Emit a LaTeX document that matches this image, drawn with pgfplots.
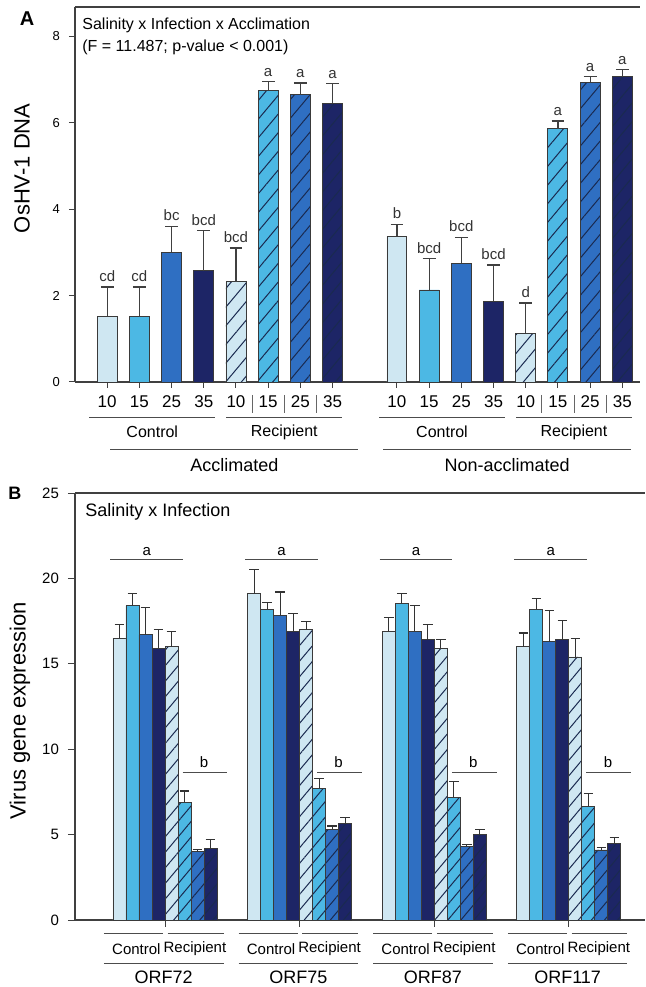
\documentclass[border=0pt]{standalone}
\usepackage{fontspec}
\setmainfont{Liberation Sans}
\usepackage{pgfplots}
\pgfplotsset{compat=1.18}
\usetikzlibrary{patterns.meta}
\definecolor{cA}{HTML}{CFE7F2}
\definecolor{cB}{HTML}{4CB8E4}
\definecolor{cC}{HTML}{2F6FC2}
\definecolor{cD}{HTML}{1D2566}
\definecolor{edge}{HTML}{3A3A3A}
\definecolor{hatchc}{HTML}{1A2A50}
\newcommand{\sepline}[1]{\draw[black!60, line width=0.4pt] ([yshift=-6.5pt]axis cs:#1,0) -- ([yshift=-15.5pt]axis cs:#1,0);}
\newcommand{\accgroup}[1]{%
  \draw[black!70, line width=0.5pt] ([yshift=-18pt]axis cs:{#1-0.55},0) -- ([yshift=-18pt]axis cs:{#1+3.35},0);
  \draw[black!70, line width=0.5pt] ([yshift=-18pt]axis cs:{#1+3.7},0) -- ([yshift=-18pt]axis cs:{#1+7.3},0);
  \node[font=\fontsize{8}{9}\selectfont] at ([yshift=-25pt]axis cs:{#1+1.4},0) {Control};
  \node[font=\fontsize{8}{9}\selectfont] at ([yshift=-25pt]axis cs:{#1+5.5},0) {Recipient};}
\newcommand{\orfgroup}[2]{%
  \draw[black!70, line width=0.5pt] (axis cs:{#1-0.7},21.1) -- (axis cs:{#1+4.9},21.1);
  \node[anchor=south, inner sep=1pt, yshift=1pt, font=\fontsize{7.5}{8}\selectfont] at (axis cs:{#1+2.1},21.1) {a};
  \draw[black!70, line width=0.5pt] (axis cs:{#1+4.85},8.65) -- (axis cs:{#1+8.3},8.65);
  \node[anchor=south, inner sep=1pt, yshift=1pt, font=\fontsize{7.5}{8}\selectfont] at (axis cs:{#1+6.5},8.65) {b};
  \draw[black!70, line width=0.5pt] ([yshift=-6.5pt]axis cs:{#1-1.2},0) -- ([yshift=-6.5pt]axis cs:{#1+3.35},0);
  \draw[black!70, line width=0.5pt] ([yshift=-6.5pt]axis cs:{#1+3.7},0) -- ([yshift=-6.5pt]axis cs:{#1+8.0},0);
  \node[font=\fontsize{7.5}{8}\selectfont] at ([yshift=-14.5pt]axis cs:{#1+1.3},0) {Control};
  \node[font=\fontsize{7.5}{8}\selectfont] at ([yshift=-14.5pt]axis cs:{#1+5.8},0) {Recipient};
  \draw[black!70, line width=0.5pt] ([yshift=-21.5pt]axis cs:{#1-1.2},0) -- ([yshift=-21.5pt]axis cs:{#1+8.0},0);
  \node[font=\fontsize{9}{10}\selectfont] at ([yshift=-28.5pt]axis cs:{#1+3.4},0) {#2};}
\begin{document}
\begin{tikzpicture}
\path[use as bounding box] (0,0) rectangle (323pt,493.5pt);
\pgfplotsset{
  common/.style={
    scale only axis, axis lines=left, axis line style={-, line width=0.6pt, black!75},
    ymin=0, clip=false,
    tick align=outside, major tick length=3.5pt, tick style={black!75, line width=0.5pt},
    /pgf/number format/assume math mode=true,
  },
  barA/.style={ybar, bar width=0.62, bar shift=0pt, fill=#1, draw=edge, line width=0.45pt,
    error bars/y dir=plus, error bars/y explicit,
    error bars/error bar style={black!75, line width=0.6pt},
    error bars/error mark options={rotate=90, black!75, line width=0.6pt, mark size=3.2pt}},
  barB/.style={ybar, bar width=1, bar shift=0pt, fill=#1, draw=edge, line width=0.45pt,
    error bars/y dir=plus, error bars/y explicit,
    error bars/error bar style={black!80, line width=0.6pt},
    error bars/error mark options={rotate=90, black!80, line width=0.6pt, mark size=2.4pt}},
  hatchA/.style={postaction={pattern color=hatchc, pattern={Lines[angle=50,distance=6pt,line width=0.5pt]}}},
  hatchB/.style={postaction={pattern color=hatchc, pattern={Lines[angle=50,distance=5pt,line width=0.5pt]}}},
}
% ---------------- Panel A ----------------
\begin{axis}[common,
  at={(37.5pt,302.5pt)}, anchor=south west,
  width=282.5pt, height=187.5pt,
  xmin=-1, xmax=16.55, ymax=8.68,
  ytick={0,2,4,6,8},
  yticklabel style={font=\fontsize{6.5}{7}\selectfont, xshift=-1pt},
  xtick={0,1,2,3,4,5,6,7,9,10,11,12,13,14,15,16},
  xticklabels={10,15,25,35,10,15,25,35,10,15,25,35,10,15,25,35},
  xticklabel style={font=\fontsize{8.5}{9}\selectfont, yshift=-0.5pt},
  major tick length=3pt,
]
\addplot[barA=cA] coordinates {(0,1.52) +- (0,0.68) (9,3.37) +- (0,0.28)};
\addplot[barA=cB] coordinates {(1,1.52) +- (0,0.68) (10,2.13) +- (0,0.72)};
\addplot[barA=cC] coordinates {(2,3.00) +- (0,0.60) (11,2.75) +- (0,0.60)};
\addplot[barA=cD] coordinates {(3,2.58) +- (0,0.92) (12,1.87) +- (0,0.84)};
\addplot[barA=cA, hatchA] coordinates {(4,2.32) +- (0,0.78) (13,1.13) +- (0,0.70)};
\addplot[barA=cB, hatchA] coordinates {(5,6.75) +- (0,0.20) (14,5.86) +- (0,0.18)};
\addplot[barA=cC, hatchA] coordinates {(6,6.65) +- (0,0.27) (15,6.94) +- (0,0.13)};
\addplot[barA=cD, hatchA] coordinates {(7,6.45) +- (0,0.45) (16,7.07) +- (0,0.16)};
\draw[black!75, line width=0.6pt] (rel axis cs:0,1) -- (rel axis cs:1,1);
% significance letters
\begin{scope}[every node/.style={anchor=south, inner sep=1pt, yshift=1.5pt, font=\fontsize{7.5}{8}\selectfont, text=black!80}]
\node at (axis cs:0,2.20) {cd};
\node at (axis cs:1,2.20) {cd};
\node at (axis cs:2,3.60) {bc};
\node at (axis cs:3,3.50) {bcd};
\node at (axis cs:4,3.10) {bcd};
\node at (axis cs:5,6.95) {a};
\node at (axis cs:6,6.92) {a};
\node at (axis cs:7,6.90) {a};
\node at (axis cs:9,3.65) {b};
\node at (axis cs:10,2.85) {bcd};
\node at (axis cs:11,3.35) {bcd};
\node at (axis cs:12,2.71) {bcd};
\node at (axis cs:13,1.83) {d};
\node at (axis cs:14,6.04) {a};
\node at (axis cs:15,7.07) {a};
\node at (axis cs:16,7.23) {a};
\end{scope}
\sepline{4.5}\sepline{5.5}\sepline{6.5}\sepline{13.5}\sepline{14.5}\sepline{15.5}
\accgroup{0}\accgroup{9}
\draw[black!70, line width=0.5pt] ([yshift=-34pt]axis cs:0.1,0) -- ([yshift=-34pt]axis cs:7.8,0);
\draw[black!70, line width=0.5pt] ([yshift=-34pt]axis cs:8.57,0) -- ([yshift=-34pt]axis cs:16.27,0);
\node[font=\fontsize{9}{10}\selectfont] at ([yshift=-41.5pt]axis cs:3.95,0) {Acclimated};
\node[font=\fontsize{9}{10}\selectfont] at ([yshift=-41.5pt]axis cs:12.42,0) {Non-acclimated};
% titles
\node[anchor=west, font=\fontsize{8}{9}\selectfont, inner sep=0pt] at ([xshift=3.5pt,yshift=-9pt]rel axis cs:0,1) {Salinity x Infection x Acclimation};
\node[anchor=west, font=\fontsize{8}{9}\selectfont, inner sep=0pt] at ([xshift=3.5pt,yshift=-20pt]rel axis cs:0,1) {(F = 11.487; p-value < 0.001)};
\node[rotate=90, font=\fontsize{11}{13}\selectfont] at ([xshift=-26.5pt]axis description cs:0,0.57) {OsHV-1 DNA};
\node[font=\bfseries\fontsize{10}{11}\selectfont] at ([xshift=-24pt,yshift=-6pt]rel axis cs:0,1) {A};
\end{axis}
% ---------------- Panel B ----------------
\begin{axis}[common,
  at={(37.5pt,33.5pt)}, anchor=south west,
  width=285pt, height=213.5pt,
  xmin=-3.42, xmax=40.4, ymax=25,
  ytick={0,5,10,15,20,25},
  yticklabel style={font=\fontsize{7.5}{8}\selectfont, xshift=-1pt},
  xtick={3.5,13.85,24.2,34.55}, xticklabels={},
  major tick length=3.5pt,
]
\addplot[barB=cA] coordinates {(0,16.5) +- (0,0.8) (10.35,19.1) +- (0,1.4) (20.7,16.9) +- (0,0.8) (31.05,16.0) +- (0,0.8)};
\addplot[barB=cB] coordinates {(1,18.4) +- (0,0.7) (11.35,18.2) +- (0,0.4) (21.7,18.55) +- (0,0.55) (32.05,18.2) +- (0,0.6)};
\addplot[barB=cC] coordinates {(2,16.7) +- (0,1.6) (12.35,17.85) +- (0,1.35) (22.7,16.9) +- (0,1.5) (33.05,16.3) +- (0,1.8)};
\addplot[barB=cD] coordinates {(3,15.9) +- (0,1.1) (13.35,16.9) +- (0,1.05) (23.7,16.4) +- (0,0.9) (34.05,16.45) +- (0,1.1)};
\addplot[barB=cA, hatchB] coordinates {(4,16.0) +- (0,0.9) (14.35,17.0) +- (0,0.5) (24.7,15.9) +- (0,0.5) (35.05,15.4) +- (0,1.1)};
\addplot[barB=cB, hatchB] coordinates {(5,6.9) +- (0,0.65) (15.35,7.7) +- (0,0.6) (25.7,7.2) +- (0,0.9) (36.05,6.67) +- (0,0.75)};
\addplot[barB=cC, hatchB] coordinates {(6,4.0) +- (0,0.15) (16.35,5.3) +- (0,0.2) (26.7,4.33) +- (0,0.1) (37.05,4.1) +- (0,0.15)};
\addplot[barB=cD, hatchB] coordinates {(7,4.2) +- (0,0.5) (17.35,5.65) +- (0,0.35) (27.7,5.0) +- (0,0.3) (38.05,4.5) +- (0,0.35)};
\draw[black!75, line width=0.6pt] (rel axis cs:0,1) -- (rel axis cs:1,1);
\orfgroup{0}{ORF72}\orfgroup{10.35}{ORF75}\orfgroup{20.7}{ORF87}\orfgroup{31.05}{ORF117}
\node[anchor=west, font=\fontsize{9}{10}\selectfont, inner sep=0pt] at ([xshift=5pt,yshift=-9.5pt]rel axis cs:0,1) {Salinity x Infection};
\node[rotate=90, font=\fontsize{11}{13}\selectfont] at ([xshift=-27.5pt]axis description cs:0,0.49) {Virus gene expression};
\node[font=\bfseries\fontsize{9}{10}\selectfont] at ([xshift=-30pt]rel axis cs:0,1) {B};
\end{axis}
\end{tikzpicture}
\end{document}
